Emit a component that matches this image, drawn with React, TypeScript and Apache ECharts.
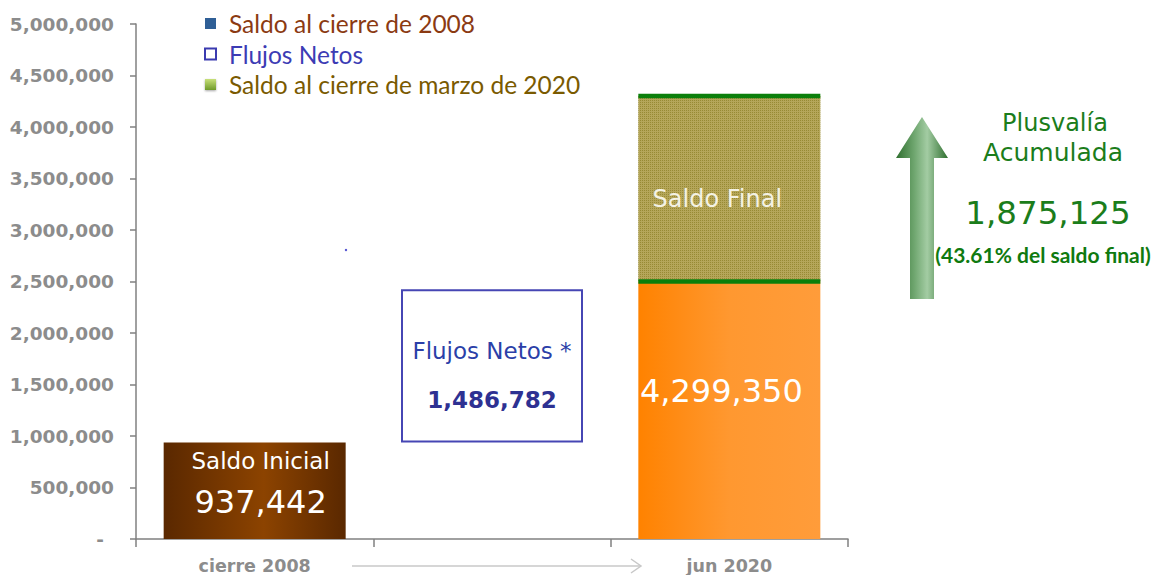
import React, { useEffect, useRef } from "react";
import * as echarts from "echarts";

const categories = ["cierre 2008", "", "jun 2020"];
const saldoInicial = [937442, "-", "-"];
const baseFlujos = ["-", 937442, "-"];
const flujosNetos = ["-", 1486782, "-"];
const saldoAcumulado = ["-", "-", 2500000];
const plusvaliaBar = ["-", "-", 1800000];
const plusvaliaLines = [[2, 2500000, 4300000]];
const saldoFinal = 4299350;
const plusvalia = 1875125;
const plusvaliaPct = 43.61;
const yTicks = { min: 0, max: 5000000, interval: 500000 };

const fmt = (v: number) => v.toLocaleString("en-US");
const FONT = "DejaVu Sans";
const BAR_W = 182;

export default function App() {
  const ref = useRef<HTMLDivElement>(null);
  useEffect(() => {
    if (!ref.current) return;
    const chart = echarts.init(ref.current, null, { renderer: "svg" });
    const legendText = (color: string) => ({
      color,
      fontFamily: "Lato",
      fontSize: 24.5,
      padding: [0, 0, 0, 8],
    });
    const option: any = {
      animation: false,
      backgroundColor: "#ffffff",
      grid: { left: 136, right: 306, top: 24, bottom: 36, containLabel: false },
      legend: {
        orient: "vertical",
        left: 199,
        top: 6,
        itemGap: 5.5,
        itemWidth: 11,
        itemHeight: 11,
        selectedMode: false,
        textStyle: { fontFamily: "Lato", fontSize: 24.5 },
        data: [
          {
            name: "Saldo al cierre de 2008",
            icon: "rect",
            itemStyle: { color: "#2f5f96", borderWidth: 0 },
            textStyle: legendText("#8b3a12"),
          },
          {
            name: "Flujos Netos",
            icon: "rect",
            itemStyle: { color: "#ffffff", borderColor: "#3b3bb0", borderWidth: 2 },
            textStyle: legendText("#3c3cb4"),
          },
          {
            name: "Saldo al cierre de marzo de 2020",
            icon: "rect",
            itemStyle: {
              color: new echarts.graphic.LinearGradient(0, 0, 0, 1, [
                { offset: 0, color: "#c8e07a" },
                { offset: 1, color: "#6f9a2a" },
              ]),
              borderWidth: 0,
              shadowColor: "rgba(0,0,0,0.35)",
              shadowBlur: 2,
              shadowOffsetY: 1,
            },
            textStyle: legendText("#7a5a00"),
          },
        ],
      },
      xAxis: {
        type: "category",
        data: categories,
        axisLine: { lineStyle: { color: "#808080", width: 1.5 } },
        axisTick: { show: true, length: 8, alignWithLabel: false, lineStyle: { color: "#808080", width: 1.5 } },
        axisLabel: { color: "#8c8c8c", fontFamily: FONT, fontWeight: "bold", fontSize: 17.5, margin: 18 },
      },
      yAxis: {
        type: "value",
        min: yTicks.min,
        max: yTicks.max,
        interval: yTicks.interval,
        splitLine: { show: false },
        axisLine: { show: true, lineStyle: { color: "#808080", width: 1.5 } },
        axisTick: { show: true, length: 6, lineStyle: { color: "#808080", width: 1.5 } },
        axisLabel: {
          color: "#8c8c8c",
          fontFamily: FONT,
          fontWeight: "bold",
          fontSize: 18.5,
          margin: 22,
          formatter: (v: number) => (v === 0 ? "{z|-}" : fmt(v)),
          rich: { z: { padding: [0, 10, 0, 0], color: "#8c8c8c", fontFamily: FONT, fontWeight: "bold", fontSize: 18.5 } },
        },
      },
      series: [
        {
          name: "Saldo al cierre de 2008",
          type: "bar",
          stack: "a",
          barWidth: BAR_W,
          data: saldoInicial,
          itemStyle: {
            color: new echarts.graphic.LinearGradient(0, 0, 1, 0, [
              { offset: 0, color: "#5a2800" },
              { offset: 0.55, color: "#8c4300" },
              { offset: 1, color: "#5a2800" },
            ]),
          },
          label: {
            show: true,
            position: "insideTop",
            distance: 4,
            offset: [6, 0],
            formatter: (p: any) => `{a|Saldo Inicial}\n{b|${fmt(p.value)}}`,
            rich: {
              a: { fontFamily: FONT, fontSize: 23, color: "#ffffff", lineHeight: 30 },
              b: { fontFamily: FONT, fontSize: 32, color: "#ffffff", lineHeight: 52 },
            },
          },
        },
        {
          name: "base",
          type: "bar",
          stack: "a",
          barWidth: BAR_W,
          data: baseFlujos,
          itemStyle: { color: "rgba(0,0,0,0)" },
          silent: true,
        },
        {
          name: "Flujos Netos",
          type: "bar",
          stack: "a",
          barWidth: BAR_W,
          data: flujosNetos,
          itemStyle: { color: "#ffffff", borderColor: "#4646b4", borderWidth: 2 },
          label: {
            show: true,
            position: "inside",
            offset: [0, 10],
            formatter: (p: any) => `{a|Flujos Netos *}\n{b|${fmt(p.value)}}`,
            rich: {
              a: { fontFamily: FONT, fontSize: 23, color: "#2b3fa8", lineHeight: 49 },
              b: { fontFamily: FONT, fontSize: 23, fontWeight: "bold", color: "#2e3192", lineHeight: 49 },
            },
          },
        },
        {
          name: "Saldo al cierre de marzo de 2020",
          type: "bar",
          stack: "a",
          barWidth: BAR_W,
          data: saldoAcumulado,
          itemStyle: {
            color: new echarts.graphic.LinearGradient(0, 0, 1, 0, [
              { offset: 0, color: "#ff8200" },
              { offset: 0.5, color: "#ff9830" },
              { offset: 1, color: "#ff9c3a" },
            ]),
          },
          label: {
            show: true,
            position: "inside",
            offset: [-8, -19],
            formatter: () => fmt(saldoFinal),
            fontFamily: FONT,
            fontSize: 32,
            color: "#ffffff",
          },
        },
        {
          name: "Plusvalía",
          type: "bar",
          stack: "a",
          barWidth: BAR_W,
          data: plusvaliaBar,
          itemStyle: {
            color: "#b5a65a",
            decal: {
              symbol: "rect",
              symbolSize: 1,
              dashArrayX: [[1, 1]],
              dashArrayY: [1, 1],
              color: "rgba(125,115,20,0.55)",
            },
          },
          label: {
            show: true,
            position: "inside",
            offset: [-12, 10],
            formatter: () => "Saldo Final",
            fontFamily: FONT,
            fontSize: 24,
            color: "#f4f2e4",
          },
        },
        {
          name: "bordes",
          type: "custom",
          data: plusvaliaLines,
          encode: { x: 0, y: [1, 2] },
          silent: true,
          z: 5,
          renderItem: (params: any, api: any) => {
            const x = api.value(0);
            const p1 = api.coord([x, api.value(1)]);
            const p2 = api.coord([x, api.value(2)]);
            const half = BAR_W / 2;
            const st = { stroke: "#0b7f0b", lineWidth: 4.5 };
            return {
              type: "group",
              children: [
                { type: "line", shape: { x1: p1[0] - half, y1: p1[1], x2: p1[0] + half, y2: p1[1] }, style: st },
                { type: "line", shape: { x1: p2[0] - half, y1: p2[1], x2: p2[0] + half, y2: p2[1] }, style: st },
              ],
            };
          },
        },
      ],
      graphic: [
        {
          type: "polygon",
          shape: {
            points: [
              [922, 117],
              [948, 158],
              [934, 158],
              [934, 299],
              [910, 299],
              [910, 158],
              [896, 158],
            ],
          },
          style: {
            fill: new echarts.graphic.LinearGradient(0, 0, 1, 0, [
              { offset: 0, color: "#2f6f2f" },
              { offset: 0.35, color: "#6fa66f" },
              { offset: 0.6, color: "#a3cca3" },
              { offset: 1, color: "#2f6f2f" },
            ]),
          },
        },
        {
          type: "text",
          x: 1055,
          y: 123,
          style: { text: "Plusvalía", fill: "#1b7d1b", font: `24px "${FONT}"`, textAlign: "center", textVerticalAlign: "middle" },
        },
        {
          type: "text",
          x: 1053,
          y: 152,
          style: { text: "Acumulada", fill: "#1b7d1b", font: `25px "${FONT}"`, textAlign: "center", textVerticalAlign: "middle" },
        },
        {
          type: "text",
          x: 1048,
          y: 213,
          style: { text: fmt(plusvalia), fill: "#1b7d1b", font: `32.5px "${FONT}"`, textAlign: "center", textVerticalAlign: "middle" },
        },
        {
          type: "text",
          x: 1043,
          y: 254,
          style: {
            text: `(${plusvaliaPct}% del saldo final)`,
            fill: "#0f7a0f",
            font: `bold 21px "Lato"`,
            textAlign: "center",
            textVerticalAlign: "middle",
          },
        },
        {
          type: "line",
          shape: { x1: 352, y1: 566, x2: 640, y2: 566 },
          style: { stroke: "#c8c8c8", lineWidth: 1.5 },
        },
        {
          type: "polyline",
          shape: { points: [[631, 559], [641, 566], [631, 573]] },
          style: { stroke: "#c8c8c8", lineWidth: 1.5, fill: "none" },
        },
        { type: "circle", shape: { cx: 346, cy: 250, r: 1.2 }, style: { fill: "#5050d0" } },
      ],
    };
    chart.setOption(option);
    return () => chart.dispose();
  }, []);
  return <div ref={ref} style={{ position: "fixed", left: 0, top: 0, width: 1154, height: 575 }} />;
}
